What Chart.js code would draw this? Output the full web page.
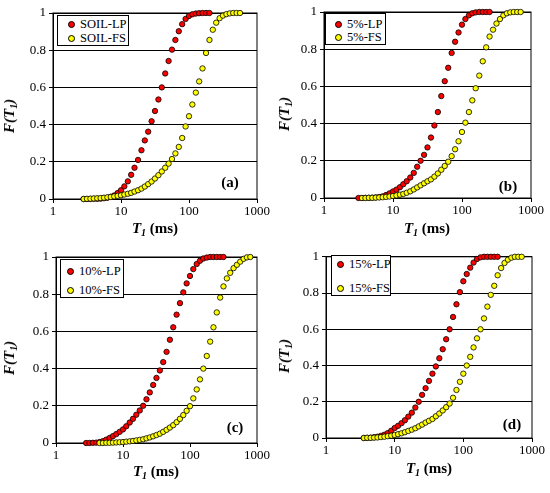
<!DOCTYPE html>
<html>
<head>
<meta charset="utf-8">
<script src="https://cdn.jsdelivr.net/npm/chart.js@4.4.0/dist/chart.umd.min.js"></script>
<style>
  body { margin: 0; background: #fff; }
  #wrap { position: relative; width: 550px; height: 493px; font-family: 'Liberation Serif', serif; color: #000; }
  canvas { position: absolute; }
  .ytitle, .xtitle, .tag { position: absolute; font-weight: bold; font-size: 15px; white-space: nowrap; transform: translate(-50%, -50%); }
  .ytitle { transform: translate(-50%, -50%) rotate(-90deg); font-style: italic; }
  .xtitle i { font-style: italic; }
  sub { font-size: 10px; vertical-align: -3px; }
  .legend { position: absolute; border: 1px solid #000; background: #fff; box-sizing: border-box; font-size: 12.5px; }
  .legend .row { position: absolute; white-space: nowrap; line-height: 14px; }
  .legend .dot { display: inline-block; width: 5px; height: 5px; border: 1px solid #000; border-radius: 50%; vertical-align: 0px; margin-right: 5px; }
</style>
</head>
<body>
<div id="wrap"></div>
<script>
// T1 grid (ms), log-spaced bins
const t1Grid = [2.82, 3.16, 3.55, 3.98, 4.47, 5.01, 5.62, 6.31, 7.08, 7.94, 8.91, 10.0, 11.2, 12.6, 14.1, 15.8, 17.8, 20.0, 22.4, 25.1,
  28.2, 31.6, 35.5, 39.8, 44.7, 50.1, 56.2, 63.1, 70.8, 79.4, 89.1, 100, 112, 126, 141, 158, 178, 200, 224, 251,
  282, 316, 355, 398, 447, 501, 562, 631, 708, 794];

const xTicks = [1, 10, 100, 1000];
const tags = ['(a)', '(b)', '(c)', '(d)'];
const seriesNames = [['SOIL-LP', 'SOIL-FS'], ['5%-LP', '5%-FS'], ['10%-LP', '10%-FS'], ['15%-LP', '15%-FS']];

// first grid index of each series
const startLP = [0, 1, 0, 2];
const startFS = [0, 2, 4, 2];

// cumulative F(T1)
const soilLP = [0, 0, 0, 0.001, 0.001, 0.002, 0.004, 0.007, 0.012, 0.019, 0.032, 0.047, 0.068, 0.095, 0.130, 0.168, 0.210, 0.262, 0.315, 0.362,
  0.418, 0.473, 0.535, 0.600, 0.675, 0.742, 0.803, 0.855, 0.902, 0.940, 0.968, 0.984, 0.993, 0.997, 0.999, 1, 1, 1];
const soilFS = [0, 0.001, 0.002, 0.003, 0.004, 0.005, 0.007, 0.009, 0.011, 0.014, 0.017, 0.020, 0.024, 0.028, 0.033, 0.040, 0.047, 0.056, 0.067, 0.080,
  0.094, 0.110, 0.128, 0.148, 0.168, 0.190, 0.215, 0.245, 0.280, 0.328, 0.390, 0.445, 0.508, 0.572, 0.632, 0.702, 0.785, 0.855, 0.910, 0.948,
  0.972, 0.986, 0.994, 0.998, 1, 1, 1];
const p5LP = [0, 0, 0.001, 0.001, 0.002, 0.003, 0.005, 0.009, 0.016, 0.025, 0.035, 0.045, 0.058, 0.074, 0.090, 0.110, 0.135, 0.168, 0.200, 0.232,
  0.272, 0.325, 0.390, 0.462, 0.548, 0.628, 0.700, 0.780, 0.840, 0.890, 0.932, 0.962, 0.982, 0.993, 0.998, 1, 1, 1, 1];
const p5FS = [0, 0, 0.001, 0.001, 0.002, 0.003, 0.004, 0.006, 0.008, 0.011, 0.014, 0.018, 0.022, 0.028, 0.036, 0.046, 0.057, 0.068, 0.079, 0.090,
  0.100, 0.115, 0.132, 0.152, 0.172, 0.195, 0.225, 0.262, 0.305, 0.355, 0.405, 0.462, 0.525, 0.590, 0.658, 0.735, 0.810, 0.868, 0.905, 0.938,
  0.962, 0.982, 0.993, 0.998, 1, 1, 1];
const p10LP = [0, 0, 0.001, 0.002, 0.005, 0.010, 0.018, 0.027, 0.037, 0.048, 0.060, 0.073, 0.090, 0.110, 0.130, 0.152, 0.175, 0.200, 0.235, 0.272,
  0.312, 0.350, 0.390, 0.435, 0.490, 0.555, 0.622, 0.690, 0.752, 0.810, 0.858, 0.898, 0.935, 0.962, 0.980, 0.992, 0.997, 1, 1, 1, 1, 1];
const p10FS = [0, 0, 0.001, 0.001, 0.002, 0.003, 0.004, 0.005, 0.007, 0.009, 0.011, 0.014, 0.017, 0.020, 0.025, 0.030, 0.036, 0.043, 0.050, 0.060,
  0.071, 0.083, 0.096, 0.112, 0.130, 0.150, 0.173, 0.198, 0.240, 0.288, 0.342, 0.400, 0.468, 0.545, 0.622, 0.702, 0.782, 0.842, 0.885, 0.915,
  0.940, 0.958, 0.975, 0.990, 0.998, 1];
const p15LP = [0, 0.001, 0.002, 0.004, 0.007, 0.012, 0.018, 0.027, 0.040, 0.055, 0.067, 0.082, 0.098, 0.118, 0.140, 0.168, 0.200, 0.238, 0.275, 0.315,
  0.355, 0.395, 0.440, 0.490, 0.545, 0.600, 0.668, 0.738, 0.805, 0.865, 0.905, 0.940, 0.968, 0.988, 0.997, 1, 1, 1, 1, 1];
const p15FS = [0, 0.001, 0.001, 0.002, 0.003, 0.005, 0.007, 0.010, 0.013, 0.017, 0.021, 0.026, 0.032, 0.039, 0.046, 0.054, 0.064, 0.074, 0.085, 0.095,
  0.105, 0.120, 0.135, 0.152, 0.170, 0.190, 0.222, 0.265, 0.310, 0.355, 0.400, 0.448, 0.500, 0.550, 0.600, 0.660, 0.725, 0.790, 0.840, 0.898,
  0.938, 0.966, 0.984, 0.995, 1, 1, 1];

const lpSeries = [soilLP, p5LP, p10LP, p15LP];
const fsSeries = [soilFS, p5FS, p10FS, p15FS];

// panel geometry (canvas origin and plot area inside it)
const boxes = [
  { x: 0,   y: 0,   w: 275, h: 246, left: 53, right: 257, top: 13, bottom: 199,
    yt: [10, 116], xt: [155, 229], tag: [230, 182], lg: [57, 15, 72, 31, 8, 22, 10] },
  { x: 275, y: 0,   w: 275, h: 246, left: 49, right: 256, top: 12, bottom: 198,
    yt: [10, 114], xt: [152, 229], tag: [233, 186], lg: [325, 13, 61, 32, 10, 23, 9] },
  { x: 0,   y: 246, w: 275, h: 247, left: 56, right: 257, top: 11, bottom: 197,
    yt: [10, 112], xt: [156, 226], tag: [235, 181], lg: [60, 259, 64, 39, 11, 30, 6] },
  { x: 275, y: 246, w: 275, h: 247, left: 51, right: 257, top: 9, bottom: 192,
    yt: [10, 110], xt: [154, 223], tag: [237, 178], lg: [331, 255, 60, 41, 8, 32, 5] }
];

const FONT = 'Liberation Serif';
const wrap = document.getElementById('wrap');

const frame = {
  id: 'frame',
  beforeDatasetsDraw(chart) {
    const { ctx, chartArea: a } = chart;
    ctx.save();
    ctx.strokeStyle = '#000';
    ctx.lineWidth = 1;
    ctx.strokeRect(a.left, a.top, a.right - a.left, a.bottom - a.top);
    ctx.restore();
  }
};

function pts(start, f) {
  return f.map((v, i) => ({ x: t1Grid[start + i], y: v }));
}

function addText(cls, html, x, y) {
  const d = document.createElement('div');
  d.className = cls;
  d.innerHTML = html;
  d.style.left = x + 'px';
  d.style.top = y + 'px';
  wrap.appendChild(d);
}

boxes.forEach((b, k) => {
  const cv = document.createElement('canvas');
  cv.style.left = b.x + 'px';
  cv.style.top = b.y + 'px';
  cv.style.width = b.w + 'px';
  cv.style.height = b.h + 'px';
  wrap.appendChild(cv);

  const colors = ['#ff0000', '#ffff00'];
  new Chart(cv.getContext('2d'), {
    type: 'scatter',
    data: {
      datasets: [
        { label: seriesNames[k][0], data: pts(startLP[k], lpSeries[k]), backgroundColor: colors[0], order: 1 },
        { label: seriesNames[k][1], data: pts(startFS[k], fsSeries[k]), backgroundColor: colors[1], order: 0 }
      ].map(ds => Object.assign(ds, { borderColor: '#000', borderWidth: 0.8, pointRadius: 2.7, pointHoverRadius: 2.7, clip: false }))
    },
    options: {
      responsive: false,
      animation: false,
      devicePixelRatio: 1,
      layout: { padding: { left: 0, right: b.w - b.right, top: b.top, bottom: b.h - b.bottom - 22 } },
      plugins: { legend: { display: false }, tooltip: { enabled: false } },
      scales: {
        x: {
          type: 'logarithmic', min: 1, max: 1000,
          afterBuildTicks: s => { s.ticks = xTicks.map(v => ({ value: v })); },
          afterFit: s => { s.height = 22; },
          ticks: { color: '#000', font: { family: FONT, size: 13 }, padding: 1, maxRotation: 0, autoSkip: false, callback: v => String(v) },
          grid: { drawOnChartArea: false, drawTicks: true, tickLength: 4, color: '#000' },
          border: { color: '#000', width: 1 }
        },
        y: {
          min: 0, max: 1,
          afterFit: s => { s.width = b.left; },
          ticks: { stepSize: 0.2, color: '#000', font: { family: FONT, size: 13 }, padding: 3, callback: v => String(+v.toFixed(1)) },
          grid: { color: '#000', lineWidth: 1, tickLength: 4 },
          border: { color: '#000', width: 1 }
        }
      }
    },
    plugins: [frame]
  });

  addText('ytitle', 'F(T<sub>1</sub>)', b.x + b.yt[0], b.y + b.yt[1]);
  addText('xtitle', '<i>T<sub>1</sub></i> (ms)', b.x + b.xt[0], b.y + b.xt[1]);
  addText('tag', tags[k], b.x + b.tag[0], b.y + b.tag[1]);

  // legend box
  const [lx, ly, lw, lh, r1, r2, pad] = b.lg;
  const lg = document.createElement('div');
  lg.className = 'legend';
  Object.assign(lg.style, { left: lx + 'px', top: ly + 'px', width: lw + 'px', height: lh + 'px' });
  [r1, r2].forEach((ry, j) => {
    const row = document.createElement('div');
    row.className = 'row';
    row.style.left = pad + 'px';
    row.style.top = (ry - 7) + 'px';
    row.innerHTML = '<span class="dot" style="background:' + colors[j] + '"></span>' + seriesNames[k][j];
    lg.appendChild(row);
  });
  wrap.appendChild(lg);
});
</script>
</body>
</html>
